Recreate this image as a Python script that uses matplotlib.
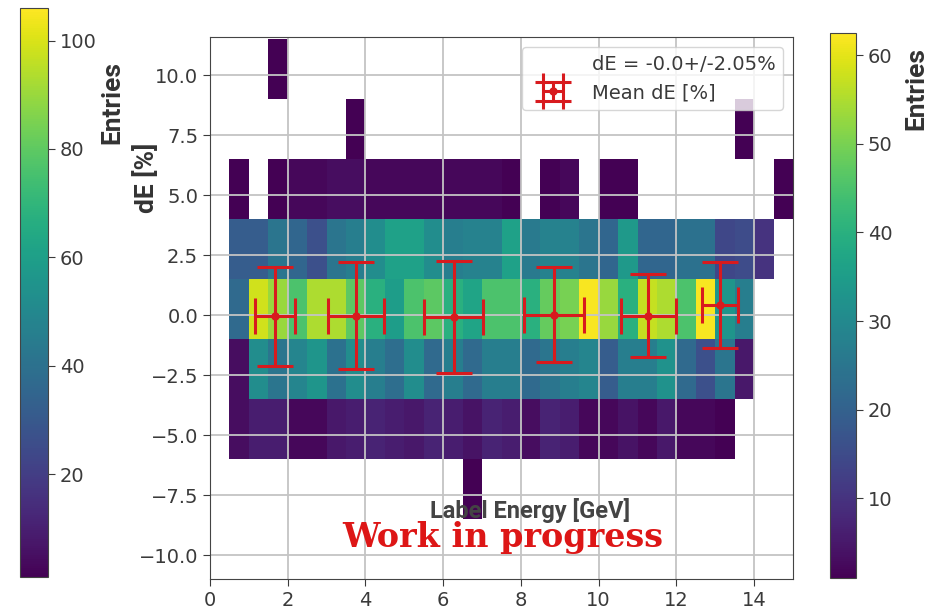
import numpy as np
import matplotlib
matplotlib.use("Agg")
import matplotlib.pyplot as plt
from matplotlib.colors import Normalize
from matplotlib.cm import ScalarMappable

# energy bins (GeV) and dE bins (%)
x_edges = np.arange(0.5, 15.01, 0.5)
y_edges = np.arange(-8.5, 11.51, 2.5)

# entries per bin, one list per dE row (bottom to top), 29 energy columns
row_m85 = [0, 0, 0, 0, 0, 0, 0, 0, 0, 0, 0, 0, 1, 0, 0, 0, 0, 0, 0, 0, 0, 0, 0, 0, 0, 0, 0, 0, 0]
row_m60 = [3, 6, 6, 2, 2, 5, 6, 7, 6, 5, 7, 6, 4, 7, 6, 3, 7, 6, 2, 2, 4, 2, 5, 2, 2, 1, 0, 0, 0]
row_m35 = [3, 31, 25, 29, 33, 24, 31, 27, 23, 31, 22, 27, 22, 27, 27, 22, 25, 27, 29, 19, 27, 27, 32, 22, 16, 25, 5, 0, 0]
row_m10 = [22, 58, 53, 45, 55, 55, 47, 40, 35, 45, 47, 40, 37, 45, 45, 40, 48, 50, 62, 53, 40, 57, 55, 45, 62, 33, 27, 0, 0]
row_p15 = [19, 19, 25, 21, 16, 25, 27, 31, 36, 36, 31, 27, 28, 28, 36, 26, 28, 28, 25, 21, 34, 21, 21, 24, 24, 14, 15, 10, 0]
row_p40 = [1, 0, 1, 2, 2, 3, 3, 2, 2, 2, 2, 2, 2, 2, 1, 0, 1, 2, 0, 1, 1, 0, 0, 0, 0, 0, 0, 0, 1]
row_p65 = [0, 0, 0, 0, 0, 0, 1, 0, 0, 0, 0, 0, 0, 0, 0, 0, 0, 0, 0, 0, 0, 0, 0, 0, 0, 0, 1, 0, 0]
row_p90 = [0, 0, 1, 0, 0, 0, 0, 0, 0, 0, 0, 0, 0, 0, 0, 0, 0, 0, 0, 0, 0, 0, 0, 0, 0, 0, 0, 0, 0]

# mean dE per energy slice
mean_x = [1.67, 3.75, 6.27, 8.85, 11.28, 13.12]
mean_xerr = [0.51, 0.72, 0.76, 0.76, 0.70, 0.47]
mean_y = [-0.05, -0.02, -0.07, 0.02, -0.02, 0.42]
mean_yerr = [2.06, 2.22, 2.33, 1.98, 1.72, 1.80]

counts = np.ma.masked_equal(np.array([row_m85, row_m60, row_m35, row_m10,
                                      row_p15, row_p40, row_p65, row_p90]), 0)

TXT = "#3a3a3a"
plt.rcParams["font.size"] = 14
plt.rcParams["text.color"] = TXT
plt.rcParams["xtick.color"] = TXT
plt.rcParams["ytick.color"] = TXT
plt.rcParams["axes.edgecolor"] = "#444444"

fig = plt.figure(figsize=(9.32, 6.13), dpi=100)
W, H = 932, 613


def px_axes(l, t, r, b):
    return fig.add_axes([l / W, 1 - b / H, (r - l) / W, (b - t) / H])


ax = px_axes(210, 37, 793, 579)
mesh = ax.pcolormesh(x_edges, y_edges, counts, cmap="viridis", vmin=1, vmax=62.5)

ax.plot([], [], " ", label="dE = -0.0+/-2.05%")
ax.errorbar(mean_x, mean_y, xerr=mean_xerr, yerr=mean_yerr, fmt="o", color="#d81a1e",
            ms=5, lw=2.2, capsize=13, capthick=2.2, label="Mean dE [%]")

ax.set_xlim(0, 15)
ax.set_ylim(-11, 11.6)
ax.set_xticks(np.arange(0, 15, 2))
ax.set_yticks(np.arange(-10, 10.1, 2.5))
ax.grid(True, color="#c4c4c4", lw=1.3)
ax.tick_params(labelsize=14, length=5)

ax.legend(loc="upper right", fontsize=14, framealpha=0.8, handlelength=2.4)

# colour scales
cax_l = px_axes(20, 8, 48, 577)
cb_l = fig.colorbar(ScalarMappable(Normalize(1, 106), cmap="viridis"), cax=cax_l)
cb_l.set_ticks([20, 40, 60, 80, 100])
cax_l.tick_params(labelsize=14, length=5)

cax_r = px_axes(830, 33, 856, 578)
cb_r = fig.colorbar(mesh, cax=cax_r)
cb_r.set_ticks([10, 20, 30, 40, 50, 60])
cax_r.tick_params(labelsize=14, length=5)

# axis titles
bold = dict(family="Roboto", weight="bold", color="#333333")
fig.text(112 / W, 1 - 103 / H, "Entries", rotation=90, ha="center", va="center", fontsize=19, **bold)
fig.text(916 / W, 1 - 89 / H, "Entries", rotation=90, ha="center", va="center", fontsize=19, **bold)
fig.text(146 / W, 1 - 178 / H, "dE [%]", rotation=90, ha="center", va="center", fontsize=19, **bold)
fig.text(530 / W, 1 - 518 / H, "Label Energy [GeV]", ha="center", va="baseline", fontsize=17,
         family="Roboto", weight="bold", color="#444444")
fig.text(503 / W, 1 - 547 / H, "Work in progress", ha="center", va="baseline", fontsize=24,
         family="DejaVu Serif", weight="bold", color="#dd1616")

fig.savefig("out.png", dpi=100)
